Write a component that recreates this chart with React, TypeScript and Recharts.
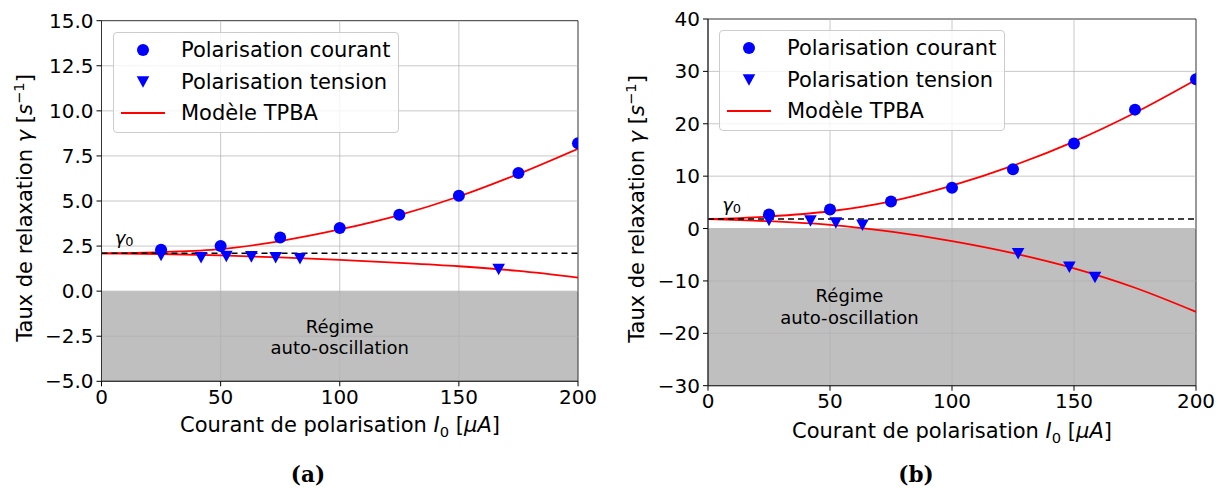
import React from 'react';
import {
  ComposedChart,
  XAxis,
  YAxis,
  Line,
  Scatter,
  ReferenceLine,
  ReferenceArea,
  ReferenceDot,
} from 'recharts';

const FONT = '"DejaVu Sans", "Noto Sans", sans-serif';

// courant de polarisation I0 [µA]
const xTicks = [0, 50, 100, 150, 200];
const modelI = [0, 25, 50, 75, 100, 125, 150, 175, 200];
const courantI = [25, 50, 75, 100, 125, 150, 175, 200];

// (a)
const aYTicks = [-5, -2.5, 0, 2.5, 5, 7.5, 10, 12.5, 15];
const aGamma0 = 2.1;
const aModelUp = [2.1, 2.17, 2.33, 2.78, 3.42, 4.22, 5.25, 6.5, 7.9];
const aModelDown = [2.1, 2.06, 1.98, 1.87, 1.73, 1.57, 1.38, 1.12, 0.75];
const aCourantY = [2.3, 2.5, 2.97, 3.5, 4.24, 5.29, 6.55, 8.2];
const aTensionI = [25, 41.8, 52.4, 62.9, 73.1, 83.3, 166.7];
const aTensionY = [1.98, 1.85, 1.92, 1.9, 1.85, 1.8, 1.2];

// (b)
const bYTicks = [-30, -20, -10, 0, 10, 20, 30, 40];
const bGamma0 = 1.8;
const bModelUp = [1.8, 2.3, 3.3, 5.2, 8.2, 12.0, 16.6, 22.1, 28.4];
const bModelDown = [1.8, 1.4, 0.7, -0.6, -2.4, -4.7, -7.6, -11.3, -15.9];
const bCourantY = [2.7, 3.65, 5.15, 7.8, 11.3, 16.25, 22.7, 28.5];
const bTensionI = [25, 42, 52.4, 63.3, 127.1, 148.1, 158.6];
const bTensionY = [1.55, 1.45, 1.07, 0.63, -4.8, -7.4, -9.35];

const pts = (xs: number[], ys: number[]) => xs.map((x, i) => ({ x, y: ys[i] }));
const minus = (s: string) => s.replace('-', '\u2212');

const BLUE = '#0000ff';
const RED = '#ff0000';

const Dot = (p: any) =>
  p.cx == null ? null : <circle cx={p.cx} cy={p.cy} r={6} fill={BLUE} />;

const TriDown = (p: any) => {
  if (p.cx == null) return null;
  const { cx, cy } = p;
  return (
    <polygon
      points={`${cx - 6.3},${cy - 5.8} ${cx + 6.3},${cy - 5.8} ${cx},${cy + 5.8}`}
      fill={BLUE}
    />
  );
};

const textAt = (value: string) => (props: any) => {
  const vb = props.viewBox || {};
  return (
    <text
      x={(vb.x || 0) + (vb.width || 0) / 2}
      y={(vb.y || 0) + (vb.height || 0) / 2}
      textAnchor="middle"
      dominantBaseline="central"
      fontSize={18}
      fontFamily={FONT}
      fill="#000"
    >
      {value}
    </text>
  );
};

const gammaLabel = (props: any) => {
  const vb = props.viewBox || {};
  return (
    <text
      x={(vb.x || 0) + (vb.width || 0) / 2}
      y={(vb.y || 0) + (vb.height || 0) / 2}
      textAnchor="middle"
      dominantBaseline="central"
      fontSize={18}
      fontFamily={FONT}
      fill="#000"
    >
      <tspan fontStyle="italic">γ</tspan>
      <tspan fontSize={13} dy={4}>0</tspan>
    </text>
  );
};

interface PanelProps {
  left: number;
  width: number;
  yAxisWidth: number;
  plotTop: number;
  plotBottom: number;
  marginRight: number;
  yTicks: number[];
  fmt: (v: number) => string;
  gamma0: number;
  up: number[];
  down: number[];
  courantY: number[];
  tensionI: number[];
  tensionY: number[];
  gammaPos: [number, number];
  regimePos: [number, number, number];
}

const CHART_H = 440;
const XAXIS_H = 30;

function Panel(p: PanelProps) {
  const yMin = p.yTicks[0];
  const yMax = p.yTicks[p.yTicks.length - 1];
  const grid = '#b0b0b0';
  return (
    <div style={{ position: 'absolute', left: p.left, top: 0 }}>
      <ComposedChart
        width={p.width}
        height={CHART_H}
        margin={{
          top: p.plotTop,
          right: p.marginRight,
          left: 0,
          bottom: CHART_H - p.plotBottom - XAXIS_H,
        }}
      >
        <XAxis
          type="number"
          dataKey="x"
          domain={[0, 200]}
          ticks={xTicks}
          interval={0}
          allowDataOverflow
          height={XAXIS_H}
          tickSize={5}
          tickMargin={3}
          tick={{ fill: '#000', fontSize: 20, fontFamily: FONT }}
          tickLine={{ stroke: '#000' }}
          axisLine={{ stroke: '#333' }}
        />
        <YAxis
          type="number"
          dataKey="y"
          domain={[yMin, yMax]}
          ticks={p.yTicks}
          interval={0}
          allowDataOverflow
          width={p.yAxisWidth}
          tickSize={5}
          tickMargin={3}
          tickFormatter={p.fmt}
          tick={{ fill: '#000', fontSize: 20, fontFamily: FONT }}
          tickLine={{ stroke: '#000' }}
          axisLine={{ stroke: '#333' }}
        />
        <ReferenceArea x1={0} x2={200} y1={yMin} y2={0} fill="#bfbfbf" fillOpacity={1} stroke="none" />
        {xTicks.slice(1, -1).map((v) => (
          <ReferenceLine key={'gx' + v} x={v} stroke={grid} strokeOpacity={0.7} />
        ))}
        {p.yTicks.slice(1, -1).map((v) => (
          <ReferenceLine key={'gy' + v} y={v} stroke={grid} strokeOpacity={0.7} />
        ))}
        <ReferenceArea x1={0} x2={200} y1={yMin} y2={yMax} fill="none" stroke="#333" strokeWidth={1} />
        <Line
          data={pts(modelI, p.up)}
          dataKey="y"
          type="monotone"
          stroke={RED}
          strokeWidth={1.8}
          dot={false}
          isAnimationActive={false}
        />
        <Line
          data={pts(modelI, p.down)}
          dataKey="y"
          type="monotone"
          stroke={RED}
          strokeWidth={1.8}
          dot={false}
          isAnimationActive={false}
        />
        <ReferenceLine y={p.gamma0} stroke="#000" strokeWidth={1.5} strokeDasharray="6 4" />
        <Scatter data={pts(courantI, p.courantY)} dataKey="y" shape={Dot} isAnimationActive={false} />
        <Scatter data={pts(p.tensionI, p.tensionY)} dataKey="y" shape={TriDown} isAnimationActive={false} />
        <ReferenceDot x={p.gammaPos[0]} y={p.gammaPos[1]} r={0} fill="none" stroke="none" label={gammaLabel} />
        <ReferenceDot x={p.regimePos[0]} y={p.regimePos[1]} r={0} fill="none" stroke="none" label={textAt('Régime')} />
        <ReferenceDot
          x={p.regimePos[0]}
          y={p.regimePos[2]}
          r={0}
          fill="none"
          stroke="none"
          label={textAt('auto-oscillation')}
        />
      </ComposedChart>
    </div>
  );
}

function Legend({ left, top }: { left: number; top: number }) {
  const rows = [
    {
      label: 'Polarisation courant',
      icon: <circle cx={29} cy={10} r={6} fill={BLUE} />,
    },
    {
      label: 'Polarisation tension',
      icon: <polygon points="22.7,4.2 35.3,4.2 29,15.8" fill={BLUE} />,
    },
    {
      label: 'Modèle TPBA',
      icon: <line x1={7} y1={10} x2={51} y2={10} stroke={RED} strokeWidth={1.8} />,
    },
  ];
  return (
    <div
      style={{
        position: 'absolute',
        left,
        top,
        width: 286,
        height: 101,
        boxSizing: 'border-box',
        border: '1px solid #cccccc',
        borderRadius: 4,
        background: 'rgba(255,255,255,0.8)',
        fontFamily: FONT,
        fontSize: 21,
      }}
    >
      {rows.map((r, i) => (
        <div key={r.label} style={{ position: 'absolute', left: 0, top: 1 + i * 31.5, height: 32, width: 284 }}>
          <svg width={60} height={20} style={{ position: 'absolute', left: 0, top: 6 }}>
            {r.icon}
          </svg>
          <span style={{ position: 'absolute', left: 67, top: 0, lineHeight: '32px', whiteSpace: 'nowrap' }}>
            {r.label}
          </span>
        </div>
      ))}
    </div>
  );
}

const labelStyle: React.CSSProperties = {
  position: 'absolute',
  whiteSpace: 'nowrap',
  fontFamily: FONT,
  fontSize: 21,
  lineHeight: '24px',
  color: '#000',
};

function YLabel({ x, y }: { x: number; y: number }) {
  return (
    <div style={{ ...labelStyle, left: x, top: y, transform: 'translate(-50%, -50%) rotate(-90deg)' }}>
      Taux de relaxation <i>γ</i> [<i>s</i>
      <sup style={{ fontSize: '0.7em', lineHeight: 0 }}>−1</sup>]
    </div>
  );
}

function XLabel({ x, y }: { x: number; y: number }) {
  return (
    <div style={{ ...labelStyle, left: x, top: y, transform: 'translate(-50%, -50%)' }}>
      Courant de polarisation <i>I</i>
      <sub style={{ fontSize: '0.7em', lineHeight: 0 }}>0</sub> [<i>μA</i>]
    </div>
  );
}

function Caption({ x, text }: { x: number; text: string }) {
  return (
    <div
      style={{
        position: 'absolute',
        left: x,
        top: 474,
        transform: 'translate(-50%, -50%)',
        fontFamily: '"DejaVu Serif", "Liberation Serif", serif',
        fontWeight: 'bold',
        fontSize: 21.5,
        whiteSpace: 'nowrap',
      }}
    >
      {text}
    </div>
  );
}

export default function App() {
  const fmtA = (v: number) => minus(v.toFixed(1));
  const fmtB = (v: number) => minus(String(v));
  return (
    <div
      style={{
        position: 'absolute',
        left: 0,
        top: 0,
        width: 1228,
        height: 488,
        background: '#fff',
        overflow: 'hidden',
      }}
    >
      <Panel
        left={0}
        width={600}
        yAxisWidth={101.5}
        plotTop={20.7}
        plotBottom={381.3}
        marginRight={22}
        yTicks={aYTicks}
        fmt={fmtA}
        gamma0={aGamma0}
        up={aModelUp}
        down={aModelDown}
        courantY={aCourantY}
        tensionI={aTensionI}
        tensionY={aTensionY}
        gammaPos={[9.5, 3.0]}
        regimePos={[100, -1.95, -3.1]}
      />
      <Panel
        left={620}
        width={608}
        yAxisWidth={88}
        plotTop={19}
        plotBottom={385.7}
        marginRight={32}
        yTicks={bYTicks}
        fmt={fmtB}
        gamma0={bGamma0}
        up={bModelUp}
        down={bModelDown}
        courantY={bCourantY}
        tensionI={bTensionI}
        tensionY={bTensionY}
        gammaPos={[9.7, 4.6]}
        regimePos={[58, -12.7, -16.9]}
      />
      <Legend left={113} top={32} />
      <Legend left={719} top={30} />
      <YLabel x={25} y={208} />
      <YLabel x={637} y={209} />
      <XLabel x={340} y={425} />
      <XLabel x={952} y={431} />
      <Caption x={308} text="(a)" />
      <Caption x={916} text="(b)" />
    </div>
  );
}
